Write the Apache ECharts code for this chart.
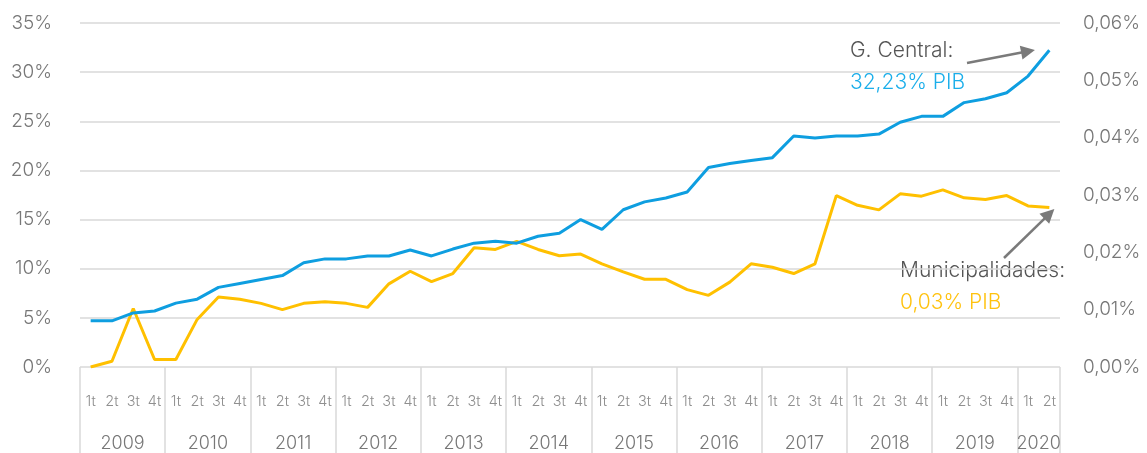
<!DOCTYPE html>
<html>
<head>
<meta charset="utf-8">
<script src="https://cdn.jsdelivr.net/npm/echarts@6/dist/echarts.min.js"></script>
<style>
  html, body { margin: 0; padding: 0; background: #fff; }
  #chart { width: 1147px; height: 453px; }
</style>
</head>
<body>
<div id="chart"></div>
<script>
// años y trimestres
var years = ['2009','2010','2011','2012','2013','2014','2015','2016','2017','2018','2019','2020'];
var quarters = ['1t','2t','3t','4t'];
var quartersPerYear = [4,4,4,4,4,4,4,4,4,4,4,2];

// G. Central (% PIB, eje izquierdo)
var central = [4.7,4.7,5.5,5.7, 6.5,6.9,8.1,8.5, 8.9,9.3,10.6,11.0, 11.0,11.3,11.3,11.9,
  11.3,12.0,12.6,12.8, 12.6,13.3,13.6,15.0, 14.0,16.0,16.8,17.2, 17.8,20.3,20.7,21.0,
  21.3,23.5,23.3,23.5, 23.5,23.7,24.9,25.5, 25.5,26.9,27.3,27.9, 29.6,32.23];

// Municipalidades (% PIB, eje derecho)
var municipal = [0.0000,0.0010,0.0102,0.0013, 0.0013,0.0083,0.0122,0.0118, 0.0111,0.0100,0.0111,0.0114,
  0.0111,0.0104,0.0145,0.0167, 0.0149,0.0163,0.0208,0.0205, 0.0219,0.0205,0.0194,0.0197,
  0.0180,0.0166,0.0153,0.0153, 0.0135,0.0125,0.0148,0.0180, 0.0174,0.0163,0.0180,0.0299,
  0.0282,0.0274,0.0302,0.0298, 0.0309,0.0295,0.0292,0.0299, 0.0281,0.0278];

var categories = [];
var yearBounds = [0];
var yearCenters = [];
years.forEach(function (y, i) {
  var start = categories.length;
  for (var q = 0; q < quartersPerYear[i]; q++) categories.push(quarters[q]);
  yearBounds.push(categories.length);
  yearCenters.push((start + categories.length) / 2);
});

var gray = '#777777';
var lineGray = '#d9d9d9';
var font = 'Inter';

var chart = echarts.init(document.getElementById('chart'));
chart.setOption({
  animation: false,
  textStyle: { fontFamily: font },
  grid: { left: 80, right: 87, top: 23, bottom: 86 },
  xAxis: [{
    type: 'category',
    data: categories,
    boundaryGap: true,
    axisLine: { show: false },
    axisTick: { show: false },
    axisLabel: { color: '#8f8f8f', fontSize: 14.5, fontWeight: 300, margin: 27, interval: 0, fontFamily: font }
  }, {
    type: 'value',
    min: 0,
    max: categories.length,
    position: 'bottom',
    splitLine: { show: false },
    axisLine: { show: false },
    axisTick: {
      show: true, inside: false, length: 86, customValues: yearBounds,
      lineStyle: { color: lineGray, width: 1.5 }
    },
    axisLabel: {
      customValues: yearCenters, margin: 68, color: gray, fontSize: 18, fontWeight: 300, fontFamily: font,
      formatter: function (v) {
        var i = yearCenters.indexOf(v);
        return i >= 0 ? years[i] : '';
      }
    }
  }],
  yAxis: [{
    type: 'value',
    min: 0, max: 35, interval: 5,
    axisLine: { show: false },
    axisTick: { show: false },
    splitLine: { lineStyle: { color: lineGray, width: 1.5 } },
    axisLabel: { color: gray, fontSize: 19, fontWeight: 300, margin: 28, fontFamily: font, formatter: '{value}%' }
  }, {
    type: 'value',
    min: 0, max: 0.06, interval: 0.01,
    axisLine: { show: false },
    axisTick: { show: false },
    splitLine: { show: false },
    axisLabel: {
      color: gray, fontSize: 19, fontWeight: 300, margin: 23, fontFamily: font,
      formatter: function (v) { return v.toFixed(2).replace('.', ',') + '%'; }
    }
  }],
  series: [{
    name: 'G. Central',
    type: 'line',
    xAxisIndex: 0, yAxisIndex: 0,
    data: central,
    symbol: 'none',
    lineStyle: { color: '#0e9ee0', width: 3 },
    itemStyle: { color: '#0e9ee0' },
    z: 3,
    markLine: {
      silent: true,
      symbol: ['none', 'triangle'],
      symbolSize: [14, 14],
      label: { show: false },
      lineStyle: { color: '#7a7a7a', width: 2.5, type: 'solid' },
      data: [[{ x: 967, y: 63 }, { coord: [categories.length - 1.6, central[central.length - 1] - 0.1] }]]
    }
  }, {
    name: 'Municipalidades',
    type: 'line',
    xAxisIndex: 0, yAxisIndex: 1,
    data: municipal,
    symbol: 'none',
    lineStyle: { color: '#ffc000', width: 3 },
    itemStyle: { color: '#ffc000' },
    z: 2,
    markLine: {
      silent: true,
      symbol: ['none', 'triangle'],
      symbolSize: [14, 14],
      label: { show: false },
      lineStyle: { color: '#7a7a7a', width: 2.5, type: 'solid' },
      data: [[{ x: 1004, y: 258 }, { coord: [categories.length - 1.17, municipal[municipal.length - 1] - 0.0011] }]]
    }
  }],
  graphic: [
    { type: 'text', left: 850, top: 40, style: { text: 'G. Central:', fill: '#555', font: '300 21px ' + font } },
    { type: 'text', left: 850, top: 72, style: { text: '32,23% PIB', fill: '#1aaeea', font: '300 21px ' + font } },
    { type: 'text', left: 900, top: 260, style: { text: 'Municipalidades:', fill: '#555', font: '300 21px ' + font } },
    { type: 'text', left: 900, top: 292, style: { text: '0,03% PIB', fill: '#ffc20e', font: '300 21px ' + font } }
  ]
});
</script>
</body>
</html>
